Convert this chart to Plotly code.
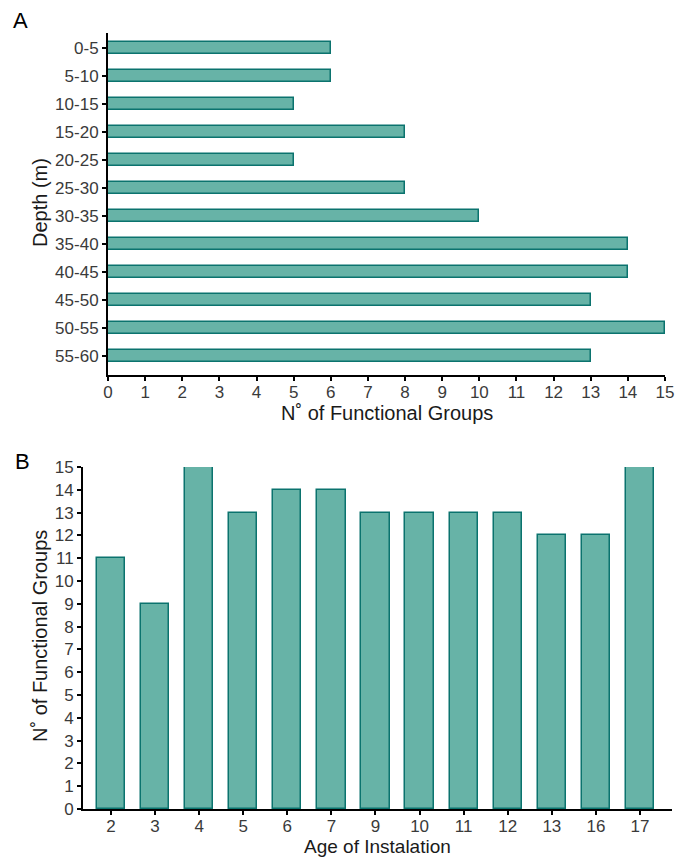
import plotly.graph_objects as go

depth_labels = ["0-5", "5-10", "10-15", "15-20", "20-25", "25-30", "30-35",
                "35-40", "40-45", "45-50", "50-55", "55-60"]
depth_groups = [6, 6, 5, 8, 5, 8, 10, 14, 14, 13, 15, 13]

age_labels = ["2", "3", "4", "5", "6", "7", "9", "10", "11", "12", "13", "16", "17"]
age_groups = [11, 9, 15, 13, 14, 14, 13, 13, 13, 13, 12, 12, 15]

FILL = "#67b3a7"
EDGE = "#0b736e"
FONT = "Liberation Sans, Arial, sans-serif"
TICKC = "#3a3a3a"
TITLEC = "#1a1a1a"

W, H = 676, 857

def fx(x):
    return x / W

def fy(y):
    return 1 - y / H

fig = go.Figure()
fig.add_trace(go.Bar(
    y=depth_labels, x=depth_groups, orientation="h", width=0.43,
    marker=dict(color=FILL, line=dict(color=EDGE, width=1.5)),
    xaxis="x", yaxis="y", showlegend=False))
fig.add_trace(go.Bar(
    x=age_labels, y=age_groups, width=0.64,
    marker=dict(color=FILL, line=dict(color=EDGE, width=1.5)),
    xaxis="x2", yaxis="y2", showlegend=False))

axis_common = dict(showline=True, linecolor="black", linewidth=2, ticks="outside",
                   ticklen=4, tickwidth=1.5, tickcolor="black", showgrid=False,
                   zeroline=False, tickfont=dict(family=FONT, size=17, color=TICKC),
                   mirror=False, automargin=False)

def ann(text, x, y, size, angle=0, color=TITLEC):
    return dict(text=text, x=fx(x), y=fy(y), xref="paper", yref="paper",
                showarrow=False, xanchor="center", yanchor="middle", textangle=angle,
                font=dict(size=size, color=color, family=FONT))

fig.update_layout(
    width=W, height=H, margin=dict(l=0, r=0, t=0, b=0),
    paper_bgcolor="white", plot_bgcolor="white",
    font=dict(family=FONT, color="#222"),
    bargap=0,
    xaxis=dict(domain=[fx(108), fx(665)], range=[0, 15], dtick=1, anchor="y",
               ticklabelstandoff=-3, **axis_common),
    yaxis=dict(domain=[fy(375), fy(33)], type="category", range=[11.68, -0.536],
               anchor="x", **axis_common),
    xaxis2=dict(domain=[fx(83), fx(672)], type="category", range=[-0.635, 12.726], anchor="y2",
                ticklabelstandoff=-3, **axis_common),
    yaxis2=dict(domain=[fy(809), fy(467)], range=[0, 15], dtick=1, anchor="x2",
                **axis_common),
    annotations=[
        ann("A", 20, 20, 22, color="black"),
        ann("B", 22, 462, 22, color="black"),
        ann("N˚ of Functional Groups", 387, 413, 20),
        ann("Depth (m)", 40, 203, 20, angle=-90),
        ann("Age of Instalation", 377, 846, 19),
        ann("N˚ of Functional Groups", 40, 636, 20, angle=-90),
    ],
)

fig.write_html(
    "out.html",
    config={"displayModeBar": False},
    post_script="document.body.style.margin='0';document.body.style.overflow='hidden';",
)
